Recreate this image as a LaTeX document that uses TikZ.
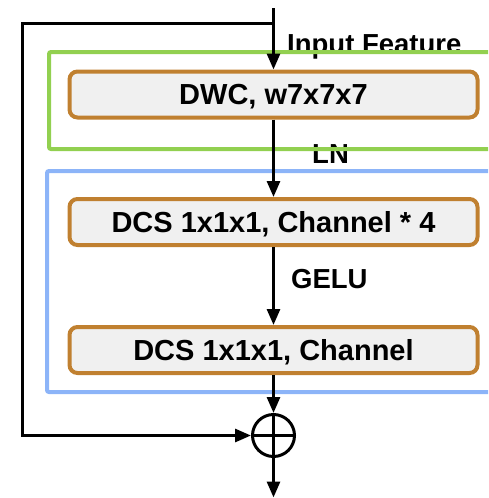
\documentclass[tikz,border=0pt]{standalone}
\usepackage{fontspec}
\setmainfont{Liberation Sans}
\usetikzlibrary{arrows.meta}
\definecolor{boxbrown}{RGB}{192,128,48}
\definecolor{boxfill}{RGB}{240,240,240}
\definecolor{grpgreen}{RGB}{146,208,80}
\definecolor{grpblue}{RGB}{140,180,248}
\begin{document}
\begin{tikzpicture}[x=1pt,y=-1pt,
  opbox/.style={draw=boxbrown, line width=4pt, fill=boxfill, rounded corners=8pt,
    minimum width=408pt, minimum height=46pt, inner sep=0pt,
    font=\bfseries\fontsize{29}{29}\selectfont, text height=20.8pt, text depth=0pt},
  lbl/.style={anchor=base west, inner sep=0pt, font=\bfseries\fontsize{27.5}{27.5}\selectfont},
  wire/.style={line width=3pt},
  flow/.style={wire, -{Triangle[length=16pt,width=13pt]}},
  grp/.style={line width=4pt, rounded corners=2pt},
]
\useasboundingbox (0,0) rectangle (488,498);
\begin{scope}
\clip (0,0) rectangle (488,498);

% operation blocks
\node[opbox] (dwc)  at (273.5,94.5) {DWC, w7x7x7};
\node[opbox] (dcsa) at (273.5,222)  {DCS 1x1x1, Channel * 4};
\node[opbox] (dcsb) at (273.5,350)  {DCS 1x1x1, Channel};

% residual sum
\node[circle, draw, line width=3pt, minimum size=42pt, inner sep=0pt] (sum) at (273.5,435.5) {};

% labels
\node[lbl] (inp)  at (287,53)  {Input Feature};
\node[lbl] (ln)   at (312,163) {LN};
\node[lbl] (gelu) at (291,288) {GELU};

% stage frames
\draw[grpgreen, grp] (49,52) rectangle (510,149);
\draw[grpblue, grp]  (47,171) rectangle (510,392);

% connectors
\coordinate (in)      at (273.5,8);
\coordinate (split)   at (273.5,23);
\coordinate (skiptop) at (22.5,23);
\coordinate (out)     at (273.5,497.5);
\draw[flow] (in) -- (dwc.north);
\draw[flow] (dwc.south) -- (dcsa.north);
\draw[flow] (dcsa.south) -- (dcsb.north);
\draw[flow] (dcsb.south) -- (sum.north);
\draw[flow] (split) -- (skiptop) |- (sum.west);
\draw[flow] (sum.south) -- (out);
\draw[wire] (sum.north) -- (sum.south) (sum.west) -- (sum.east);
\end{scope}
\end{tikzpicture}
\end{document}
